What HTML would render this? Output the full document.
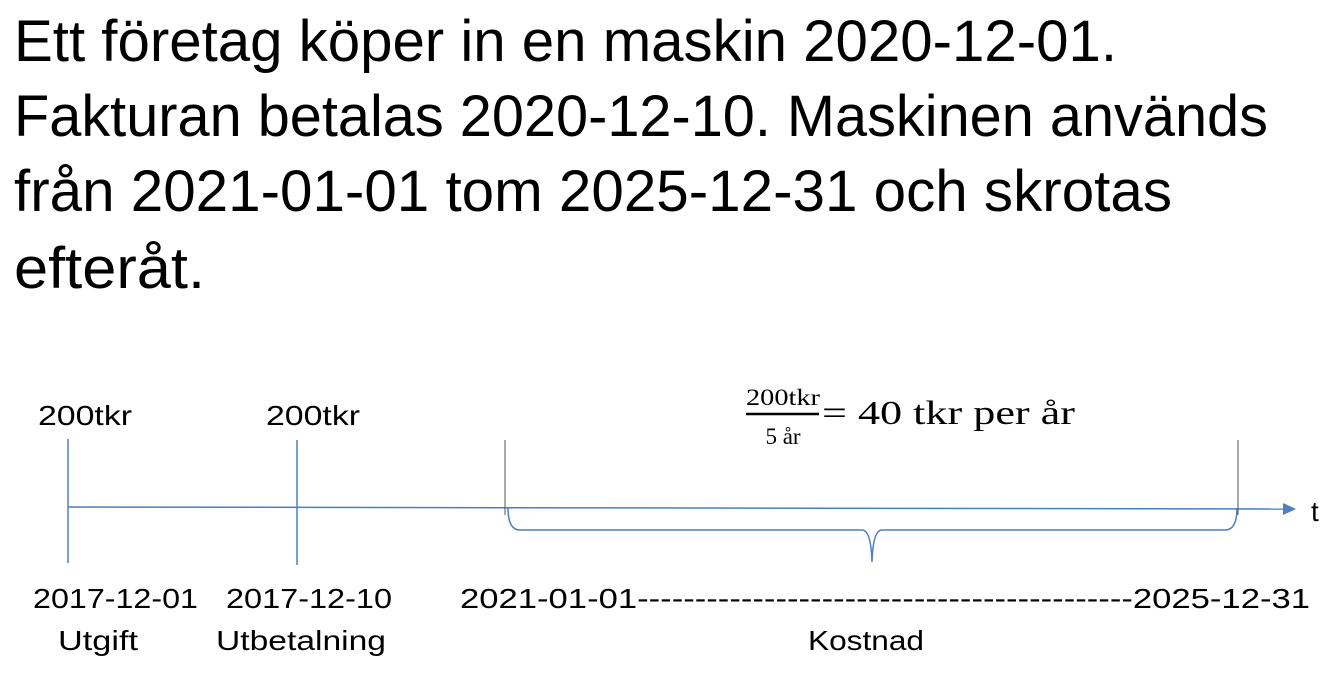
<!DOCTYPE html>
<html><head><meta charset="utf-8"><style>
html,body{margin:0;padding:0;background:#fff;width:1331px;height:677px;overflow:hidden}
svg{display:block}
.t{font-family:"Liberation Sans",sans-serif;font-size:58px;fill:#000}
.l{font-family:"Liberation Sans",sans-serif;font-size:28px;fill:#000}
.s{font-family:"Liberation Serif",serif;fill:#000}
</style></head><body>
<svg width="1331" height="677" viewBox="0 0 1331 677">
<g>
<text class="t" x="14" y="61" textLength="1103" lengthAdjust="spacingAndGlyphs">Ett företag köper in en maskin 2020-12-01.</text>
<text class="t" x="14" y="136" textLength="1254" lengthAdjust="spacingAndGlyphs">Fakturan betalas 2020-12-10. Maskinen används</text>
<text class="t" x="14" y="211" textLength="1158" lengthAdjust="spacingAndGlyphs">från 2021-01-01 tom 2025-12-31 och skrotas</text>
<text class="t" x="14" y="288" textLength="191" lengthAdjust="spacingAndGlyphs">efteråt.</text>
</g>
<line x1="68" y1="507" x2="1285" y2="509" stroke="#4a7fc1" stroke-width="1.5"/>
<polygon points="1283,503 1296,509 1283,515" fill="#4a7fc1"/>
<text class="l" x="1311" y="521">t</text>
<line x1="68" y1="439" x2="68" y2="563" stroke="#4a7fc1" stroke-width="1.5"/>
<line x1="297" y1="440" x2="297" y2="565" stroke="#4a7fc1" stroke-width="1.5"/>
<line x1="505" y1="440" x2="505" y2="515" stroke="#555" stroke-width="1"/>
<line x1="1238" y1="440" x2="1238" y2="515" stroke="#555" stroke-width="1"/>
<path d="M508,508 Q508,530 520,530 L862,530 Q871,530 872,562 Q873,530 882,530 L1225,530 Q1237,530 1237,508" fill="none" stroke="#4a7fc1" stroke-width="1.5"/>
<text class="l" x="38" y="425" textLength="94" lengthAdjust="spacingAndGlyphs">200tkr</text>
<text class="l" x="266" y="425" textLength="94" lengthAdjust="spacingAndGlyphs">200tkr</text>
<text class="l" x="33" y="608" textLength="165" lengthAdjust="spacingAndGlyphs">2017-12-01</text>
<text class="l" x="226" y="608" textLength="166" lengthAdjust="spacingAndGlyphs">2017-12-10</text>
<text class="l" x="58" y="650" textLength="80" lengthAdjust="spacingAndGlyphs">Utgift</text>
<text class="l" x="216" y="650" textLength="170" lengthAdjust="spacingAndGlyphs">Utbetalning</text>
<text class="l" x="460" y="608" textLength="850" lengthAdjust="spacingAndGlyphs">2021-01-01-------------------------------------------2025-12-31</text>
<text class="l" x="808" y="650" textLength="116" lengthAdjust="spacingAndGlyphs">Kostnad</text>
<g>
<text class="s" x="783" y="405" font-size="23" text-anchor="middle" textLength="74" lengthAdjust="spacingAndGlyphs">200tkr</text>
<line x1="746" y1="414" x2="819" y2="414" stroke="#000" stroke-width="2.5"/>
<text class="s" x="783" y="444" font-size="23" text-anchor="middle">5 år</text>
<text class="s" x="822" y="424" font-size="34" textLength="253" lengthAdjust="spacingAndGlyphs">= 40 tkr per år</text>
</g>
</svg>
</body></html>
